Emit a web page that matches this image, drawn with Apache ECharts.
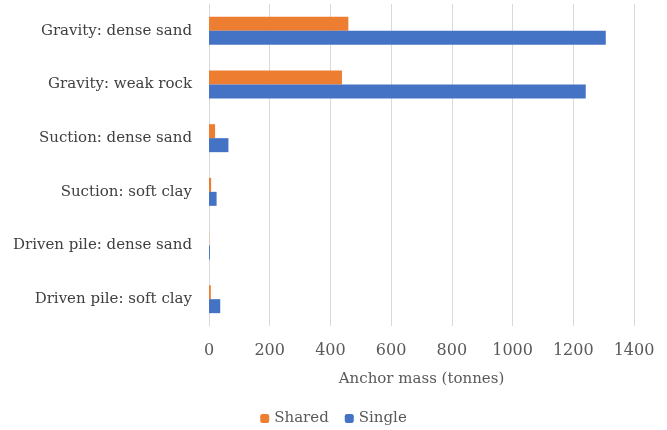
<!DOCTYPE html>
<html><head><meta charset="utf-8">
<script src="https://cdn.jsdelivr.net/npm/echarts@6/dist/echarts.min.js"></script>
<style>html,body{margin:0;padding:0;background:#fff}#c{width:667px;height:430px}</style>
</head><body><div id="c"></div>
<script>
var categories = ["Gravity: dense sand","Gravity: weak rock","Suction: dense sand","Suction: soft clay","Driven pile: dense sand","Driven pile: soft clay"];
var sharedValues = [459, 438, 20, 7, 0.5, 6];
var singleValues = [1307, 1241, 64, 25, 3, 37];
var xTicks = {min:0, max:1400, interval:200};
var font = "'DejaVu Serif',serif";
var chart = echarts.init(document.getElementById('c'), null, {renderer:'canvas'});
chart.setOption({
  animation:false,
  textStyle:{fontFamily:font},
  grid:{left:209, right:33, top:4, height:322},
  legend:{bottom:-1, left:'center', itemWidth:9, itemHeight:9, itemGap:16,
    textStyle:{fontFamily:font, fontSize:15, color:'#595959'},
    data:['Shared','Single']},
  xAxis:{type:'value', min:xTicks.min, max:xTicks.max, interval:xTicks.interval,
    name:'Anchor mass (tonnes)', nameLocation:'middle', nameGap:46,
    nameTextStyle:{fontFamily:font, fontSize:15, color:'#595959'},
    axisLabel:{fontFamily:font, fontSize:16, color:'#595959', margin:17,
      formatter:function(v){return String(v);}},
    axisLine:{show:false}, axisTick:{show:false},
    splitLine:{lineStyle:{color:'#d9d9d9'}}},
  yAxis:{type:'category', data:categories, inverse:true,
    axisLabel:{fontFamily:font, fontSize:15, color:'#404040', margin:17},
    axisLine:{lineStyle:{color:'#d9d9d9'}}, axisTick:{show:false}},
  series:[
    {name:'Shared', type:'bar', data:sharedValues, barWidth:14, barGap:'0%', itemStyle:{color:'#ED7D31'}},
    {name:'Single', type:'bar', data:singleValues, barWidth:14, barGap:'0%', itemStyle:{color:'#4472C4'}}
  ]
});
</script></body></html>
